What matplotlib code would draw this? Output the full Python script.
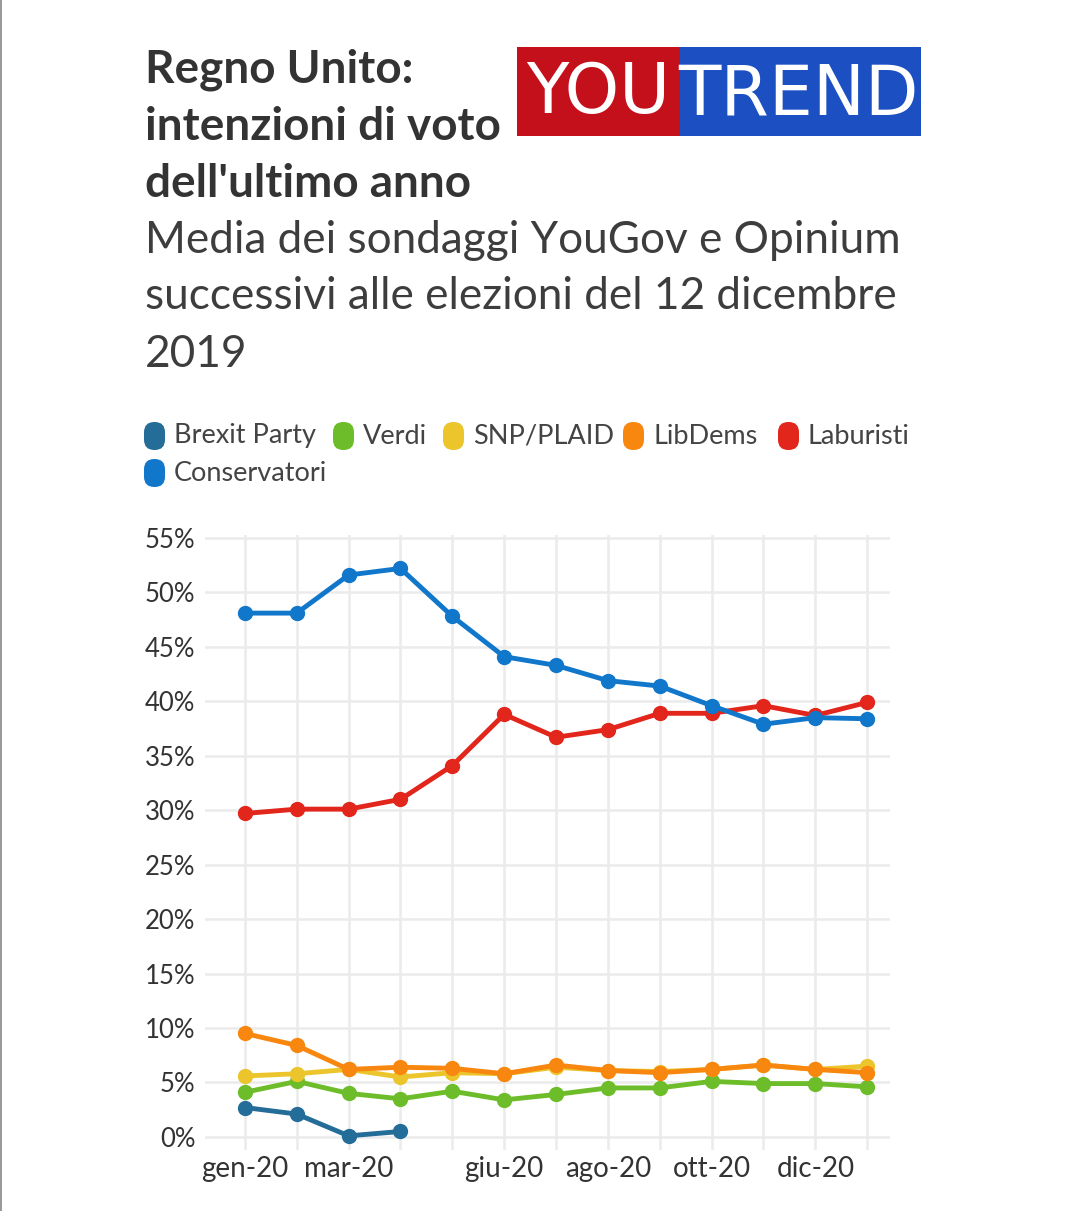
import matplotlib
matplotlib.use("Agg")
import matplotlib.pyplot as plt
from matplotlib.patches import FancyBboxPatch, Rectangle
import numpy as np

W, H = 1080, 1211
DPI = 100

# ---------------- data ----------------
months = ["gen-20", "feb-20", "mar-20", "apr-20", "mag-20", "giu-20", "lug-20",
          "ago-20", "set-20", "ott-20", "nov-20", "dic-20", "gen-21"]
tick_labels = ["gen-20", "mar-20", "giu-20", "ago-20", "ott-20", "dic-20"]

brexit = [2.7, 2.1, 0.1, 0.5]
verdi = [4.1, 5.1, 4.0, 3.5, 4.2, 3.4, 3.9, 4.5, 4.5, 5.1, 4.9, 4.9, 4.6]
snp = [5.6, 5.8, 6.2, 5.5, 5.9, 5.8, 6.4, 6.1, 6.0, 6.2, 6.6, 6.2, 6.5]
libdems = [9.5, 8.4, 6.2, 6.4, 6.3, 5.8, 6.6, 6.1, 5.9, 6.2, 6.6, 6.2, 5.9]
laburisti = [29.7, 30.1, 30.1, 31.0, 34.1, 38.8, 36.7, 37.4, 38.9, 38.9, 39.6, 38.7, 39.9]
conservatori = [48.1, 48.1, 51.6, 52.2, 47.8, 44.1, 43.3, 41.9, 41.4, 39.6, 37.9, 38.5, 38.4]

series_names = ["Brexit Party", "Verdi", "SNP/PLAID", "LibDems", "Laburisti", "Conservatori"]
series_vals = [brexit, verdi, snp, libdems, laburisti, conservatori]
colors = ["#256d99", "#6dbd2a", "#ebc52b", "#f8870f", "#e2261c", "#1077cb"]

yticks = list(range(0, 56, 5))

# ---------------- figure ----------------
fig = plt.figure(figsize=(W / DPI, H / DPI), dpi=DPI)
fig.patch.set_facecolor("white")

def fx(px):
    return px / W

def fy(py):
    return 1 - py / H

FONT = "Lato"
TXT = "#333333"

# left border line
fig.add_artist(Rectangle((0, 0), fx(2), 1, transform=fig.transFigure,
                         facecolor="#9a9a9a", edgecolor="none"))

# title
for i, line in enumerate(["Regno Unito:", "intenzioni di voto", "dell'ultimo anno"]):
    fig.text(fx(145), fy(70 + i * 57), line, fontsize=33, fontweight="bold",
             family=FONT, color=TXT, va="center", ha="left")

# subtitle
for i, line in enumerate(["Media dei sondaggi YouGov e Opinium",
                          "successivi alle elezioni del 12 dicembre",
                          "2019"]):
    fig.text(fx(145), fy(240 + i * 57), line, fontsize=31.8, fontweight="normal",
             family=FONT, color="#3d3d3d", va="center", ha="left")

# logo
fig.add_artist(Rectangle((fx(517), fy(136)), fx(680 - 517), (136 - 47) / H,
                         transform=fig.transFigure, facecolor="#c4101b", edgecolor="none"))
fig.add_artist(Rectangle((fx(680), fy(136)), fx(921 - 680), (136 - 47) / H,
                         transform=fig.transFigure, facecolor="#1b4fc2", edgecolor="none"))
LOGO_FONT = ["Liberation Sans Narrow", "DejaVu Sans"]
fig.text(fx(598), fy(93), "YOU", fontsize=50, fontweight="normal", color="white",
         family=LOGO_FONT, ha="center", va="center")
fig.text(fx(799), fy(95), "TREND", fontsize=50, fontweight="normal", color="white",
         family=LOGO_FONT, ha="center", va="center")

# legend (manual, two rows)
leg_pos = [(143, 436), (332, 436), (442, 436), (622, 436), (777, 436), (143, 473)]
for (x, y), name, c in zip(leg_pos, series_names, colors):
    fig.add_artist(FancyBboxPatch((fx(x + 1), fy(y + 14)), fx(21), 28 / H,
                                  boxstyle="round,pad=0,rounding_size=0.0095",
                                  transform=fig.transFigure, facecolor=c,
                                  edgecolor="none", mutation_aspect=W / H))
    fig.text(fx(x + 31), fy(y), name, fontsize=19.5, family=FONT, color="#444444",
             va="center", ha="left")

# axes
ax = fig.add_axes([fx(205), (H - 1150) / H, fx(890 - 205), (1150 - 534.7) / H])
ax.set_facecolor("white")
x = np.arange(len(months))
for name, vals, c in zip(series_names, series_vals, colors):
    xs = x[:len(vals)]
    ax.plot(xs, vals, color=c, lw=3.5, marker="o", ms=10, solid_joinstyle="round",
            zorder=3, label=name)

ax.set_xlim(-0.77, 12.44)
ax.set_ylim(-1.2, 55.3)
ax.set_yticks(yticks)
ax.set_yticklabels([f"{v}%" for v in yticks])
ax.set_xticks(x, minor=True)
ax.set_xticks([months.index(t) for t in tick_labels])
ax.set_xticklabels(tick_labels)
ax.grid(True, which="both", color="#ebebeb", lw=1.8, zorder=0)
ax.set_axisbelow(True)
for s in ax.spines.values():
    s.set_visible(False)
ax.tick_params(axis="both", which="both", length=0)
ax.tick_params(axis="y", pad=7, labelsize=18.5, labelcolor="#333333")
ax.tick_params(axis="x", pad=4, labelsize=20, labelcolor="#333333")
for lab in ax.get_xticklabels() + ax.get_yticklabels():
    lab.set_family(FONT)

fig.savefig("out.png", dpi=DPI, facecolor="white")
